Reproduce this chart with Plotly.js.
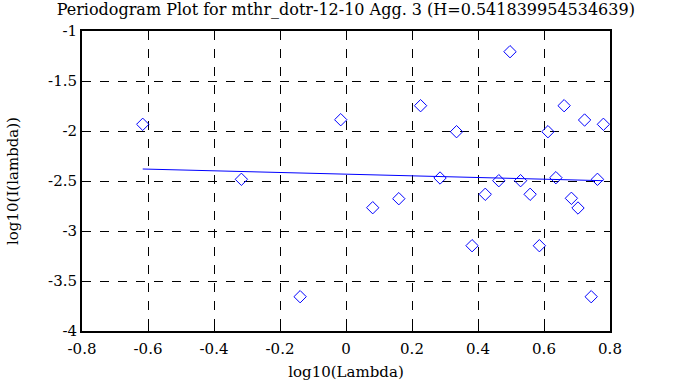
<!DOCTYPE html>
<html><head><meta charset="utf-8">
<script src="https://cdn.plot.ly/plotly-3.0.1.min.js"></script>
<style>body{margin:0;padding:0;background:#fff}#chart{width:678px;height:387px}</style>
</head><body><div id="chart"></div>
<script>
const logLambda = [-0.616,-0.317,-0.139,-0.016,0.081,0.160,0.226,0.285,0.335,0.382,0.422,0.463,0.497,0.529,0.558,0.586,0.612,0.636,0.661,0.683,0.703,0.723,0.743,0.762,0.780];
const logI = [-1.933,-2.483,-3.657,-1.887,-2.767,-2.677,-1.747,-2.470,-2.007,-3.147,-2.633,-2.497,-1.207,-2.497,-2.633,-3.147,-2.007,-2.467,-1.747,-2.673,-2.770,-1.890,-3.657,-2.483,-1.933];
const fitX = [-0.616, 0.780];
const fitY = [-2.380, -2.497];
const xTicks = [-0.8,-0.6,-0.4,-0.2,0,0.2,0.4,0.6,0.8];
const xTickText = ['-0.8','-0.6','-0.4','-0.2','0','0.2','0.4','0.6','0.8'];
const yTicks = [-4,-3.5,-3,-2.5,-2,-1.5,-1];
const yTickText = ['-4','-3.5','-3','-2.5','-2','-1.5','-1'];

const fam = 'Liberation Serif, DejaVu Serif, serif';
const mk = (s) => ({family:'DejaVu Serif', size:s, color:'#000'});
const traces = [
  {x:logLambda, y:logI, type:'scatter', mode:'markers',
   marker:{symbol:'diamond-open', size:9.5, color:'#0000ff', line:{width:1, color:'#0000ff'}}},
  {x:fitX, y:fitY, type:'scatter', mode:'lines', line:{color:'#0000ff', width:1}}
];
const axisCommon = {showline:true, linecolor:'#000', linewidth:2, mirror:'ticks',
  ticks:'inside', ticklen:6, tickcolor:'#000', tickwidth:1,
  showgrid:true, gridcolor:'#000', gridwidth:1, griddash:'dash', zeroline:false,
  tickfont:mk(15)};
const layout = {
  width:678, height:387, showlegend:false,
  margin:{l:82, r:68, t:31, b:56},
  paper_bgcolor:'#fff', plot_bgcolor:'#fff', font:mk(15),
  title:{text:'Periodogram Plot for mthr_dotr-12-10 Agg. 3 (H=0.541839954534639)', font:mk(16), x:0.51, xanchor:'center', y:0.975, yanchor:'middle'},
  xaxis:Object.assign({}, axisCommon, {range:[-0.8,0.8], tickvals:xTicks, ticktext:xTickText,
    ticklabelstandoff:3,
    title:{text:'log10(Lambda)', font:mk(15), standoff:9}}),
  yaxis:Object.assign({}, axisCommon, {range:[-4,-1], tickvals:yTicks, ticktext:yTickText,
    title:{text:'log10(I(lambda))', font:mk(15), standoff:26}})
};
Plotly.newPlot('chart', traces, layout, {staticPlot:true, displayModeBar:false});
</script></body></html>
